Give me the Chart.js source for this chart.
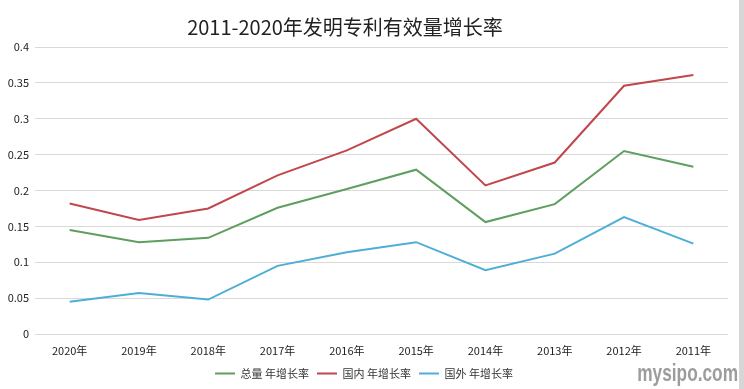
<!DOCTYPE html>
<html>
<head>
<meta charset="utf-8">
<script src="https://cdn.jsdelivr.net/npm/chart.js@4.4.1/dist/chart.umd.min.js"></script>
<style>
  html, body { margin: 0; padding: 0; background: #fff; }
  #wrap { position: relative; width: 744px; height: 389px; overflow: hidden; }
  #title {
    position: absolute; left: 145px; width: 400px; top: 12px;
    text-align: center; font: 20px "Noto Sans CJK SC", sans-serif; color: #222;
  }
  #mark {
    position: absolute; right: 6px; bottom: 2px;
    font: bold 24px "Liberation Sans", "DejaVu Sans", sans-serif;
    color: #9c9c9c; transform: scaleX(0.72); transform-origin: right bottom;
  }
  #edge { position: absolute; right: 0; top: 0; width: 5px; height: 389px; background: #d6d6d6; }
</style>
</head>
<body>
<div id="wrap">
  <canvas id="growthChart" width="744" height="389"></canvas>
  <div id="title">2011-2020年发明专利有效量增长率</div>
  <div id="edge"></div>
  <div id="mark">mysipo.com</div>
</div>
<script>
const years = ["2020年", "2019年", "2018年", "2017年", "2016年", "2015年", "2014年", "2013年", "2012年", "2011年"];
const totalRate = [0.145, 0.128, 0.134, 0.176, 0.202, 0.229, 0.156, 0.181, 0.255, 0.233];
const domesticRate = [0.182, 0.159, 0.175, 0.221, 0.256, 0.300, 0.207, 0.239, 0.346, 0.361];
const foreignRate = [0.045, 0.057, 0.048, 0.095, 0.114, 0.128, 0.089, 0.112, 0.163, 0.126];

const font = "'Noto Sans CJK SC', sans-serif";

function line(label, data, color) {
  return {
    label: label,
    data: data,
    borderColor: color,
    backgroundColor: color,
    borderWidth: 2,
    pointRadius: 0,
    tension: 0,
  };
}

new Chart(document.getElementById("growthChart"), {
  type: "line",
  data: {
    labels: years,
    datasets: [
      line("总量 年增长率", totalRate, "#5e9e5f"),
      line("国内 年增长率", domesticRate, "#c0474b"),
      line("国外 年增长率", foreignRate, "#4eaed6"),
    ],
  },
  options: {
    responsive: false,
    animation: false,
    layout: { padding: { top: 47, right: 16, left: 0, bottom: 0 } },
    plugins: {
      title: { display: false },
      tooltip: { enabled: false },
      legend: {
        position: "bottom",
        labels: {
          usePointStyle: true,
          pointStyle: "line",
          pointStyleWidth: 20,
          padding: 8,
          color: "#333",
          font: { family: font, size: 11 },
        },
      },
    },
    scales: {
      x: {
        offset: true,
        grid: { display: false, drawTicks: false },
        border: { display: false },
        ticks: { color: "#222", font: { family: font, size: 11 }, padding: 10, maxRotation: 0 },
        afterFit: (s) => { s.height = 26; },
      },
      y: {
        min: 0,
        max: 0.4,
        grid: { color: "#d9d9d9", drawTicks: false },
        border: { display: false },
        ticks: {
          stepSize: 0.05,
          color: "#222",
          font: { family: font, size: 11 },
          padding: 6,
          callback: (v) => String(Number(v.toFixed(2))),
        },
        afterFit: (s) => { s.width = 35; },
      },
    },
  },
});
</script>
</body>
</html>
